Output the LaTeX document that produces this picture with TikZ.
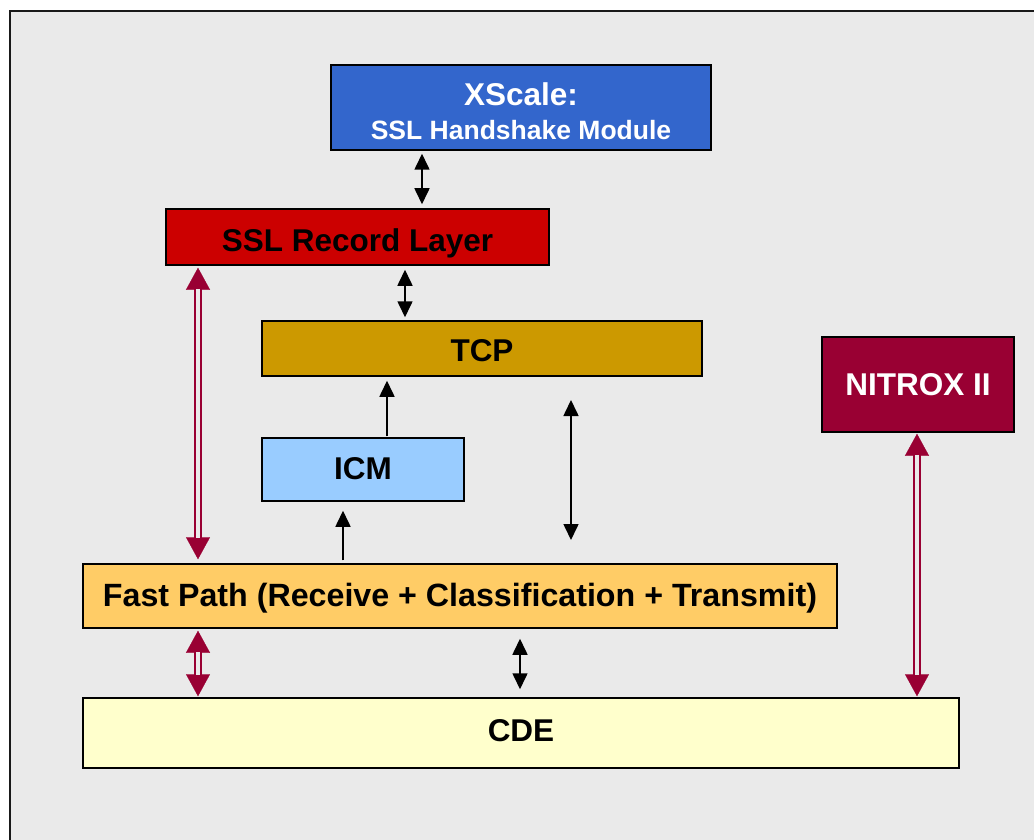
\documentclass[tikz,border=0pt]{standalone}
\usepackage{fontspec}
\setmainfont{Liberation Sans}
\usetikzlibrary{arrows.meta}
\definecolor{bgc}{HTML}{EAEAEA}
\definecolor{xsblue}{HTML}{3366CC}
\definecolor{sslred}{HTML}{CC0000}
\definecolor{tcpgold}{HTML}{CC9900}
\definecolor{icmblue}{HTML}{99CCFF}
\definecolor{crim}{HTML}{990033}
\definecolor{fporange}{HTML}{FFCC66}
\definecolor{cdeyellow}{HTML}{FFFFCC}
\newcommand{\biglbl}{\fontsize{31.5}{36}\selectfont\bfseries}
\begin{document}
\begin{tikzpicture}[x=1pt,y=-1pt,
  box/.style={draw=black, line width=1.5pt, inner sep=0pt, font=\biglbl, align=center},
  tsh/.style={text height=#1, text depth=0pt},
  barrow/.style={{Triangle[width=15pt,length=16pt]}-{Triangle[width=15pt,length=16pt]}, line width=1.6pt, draw=black},
  bsingle/.style={-{Triangle[width=15pt,length=16pt]}, line width=1.6pt, draw=black},
  redtips/.style={{Triangle[width=24pt,length=22pt]}-{Triangle[width=24pt,length=22pt]}, line width=0.2pt, draw=crim, fill=crim},
  reddbl/.style={draw=crim, double=bgc, line width=2pt, double distance=3.4pt}]
\useasboundingbox (0,0) rectangle (1034,840);
\clip (0,0) rectangle (1034,840);
\draw[fill=bgc, draw=black!90, line width=2pt] (10,11) rectangle (1060,870);

\node[box, fill=xsblue, minimum width=380pt, minimum height=85pt] (xs) at (521,107.5) {};
\node[anchor=base, inner sep=0pt, text=white, font=\fontsize{31.5}{33}\selectfont\bfseries] (xst1) at ([yshift=1.5pt]xs.center) {XScale:};
\node[anchor=base, inner sep=0pt, text=white, font=\fontsize{26.5}{33}\selectfont\bfseries] (xst2) at ([yshift=-32pt]xs.center) {SSL Handshake Module};
\node[box, tsh=28pt, fill=sslred, minimum width=383pt, minimum height=56pt] (ssl) at (357.5,237) {SSL Record Layer};
\node[box, tsh=25pt, fill=tcpgold, minimum width=440pt, minimum height=55pt] (tcp) at (482,348.5) {TCP};
\node[box, tsh=19pt, fill=icmblue, minimum width=202pt, minimum height=63pt] (icm) at (363,469.5) {ICM};
\node[box, tsh=22pt, fill=crim, text=white, minimum width=192pt, minimum height=95pt] (nit) at (918,384.5) {NITROX II};
\node[box, tsh=20pt, fill=fporange, minimum width=754pt, minimum height=64pt, font=\fontsize{32.2}{36}\selectfont\bfseries] (fp) at (460,596) {Fast Path (Receive + Classification + Transmit)};
\node[box, tsh=16pt, fill=cdeyellow, minimum width=876pt, minimum height=70pt] (cde) at (521,733) {CDE};

% black arrows
\coordinate (b1) at (422,0);
\draw[barrow, shorten <=3pt, shorten >=4pt] (b1 |- xs.south) -- (b1 |- ssl.north);
\coordinate (b2) at (405,0);
\draw[barrow, shorten <=4pt, shorten >=3pt] (b2 |- ssl.south) -- (b2 |- tcp.north);
\coordinate (b3) at (387,0);
\draw[bsingle, shorten <=1pt, shorten >=4pt] (b3 |- icm.north) -- (b3 |- tcp.south);
\coordinate (b4) at (343,0);
\draw[bsingle, shorten <=3pt, shorten >=9pt] (b4 |- fp.north) -- (b4 |- icm.south);
\coordinate (f1) at (571,400);
\coordinate (f2) at (571,540);
\draw[barrow] (f1) -- (f2);
\coordinate (b5) at (520,0);
\draw[barrow, shorten <=10pt, shorten >=8pt] (b5 |- fp.south) -- (b5 |- cde.north);

% red double arrows
\coordinate (r1) at (198,0);
\draw[redtips, shorten <=2pt, shorten >=4pt] (r1 |- ssl.south) -- (r1 |- fp.north);
\draw[reddbl, shorten <=23pt, shorten >=25pt] (r1 |- ssl.south) -- (r1 |- fp.north);
\draw[redtips, shorten <=2pt, shorten >=1pt] (r1 |- fp.south) -- (r1 |- cde.north);
\draw[reddbl, shorten <=23pt, shorten >=22pt] (r1 |- fp.south) -- (r1 |- cde.north);
\coordinate (r2) at (917,0);
\draw[redtips, shorten <=1pt, shorten >=1pt] (r2 |- nit.south) -- (r2 |- cde.north);
\draw[reddbl, shorten <=22pt, shorten >=22pt] (r2 |- nit.south) -- (r2 |- cde.north);
\end{tikzpicture}
\end{document}
